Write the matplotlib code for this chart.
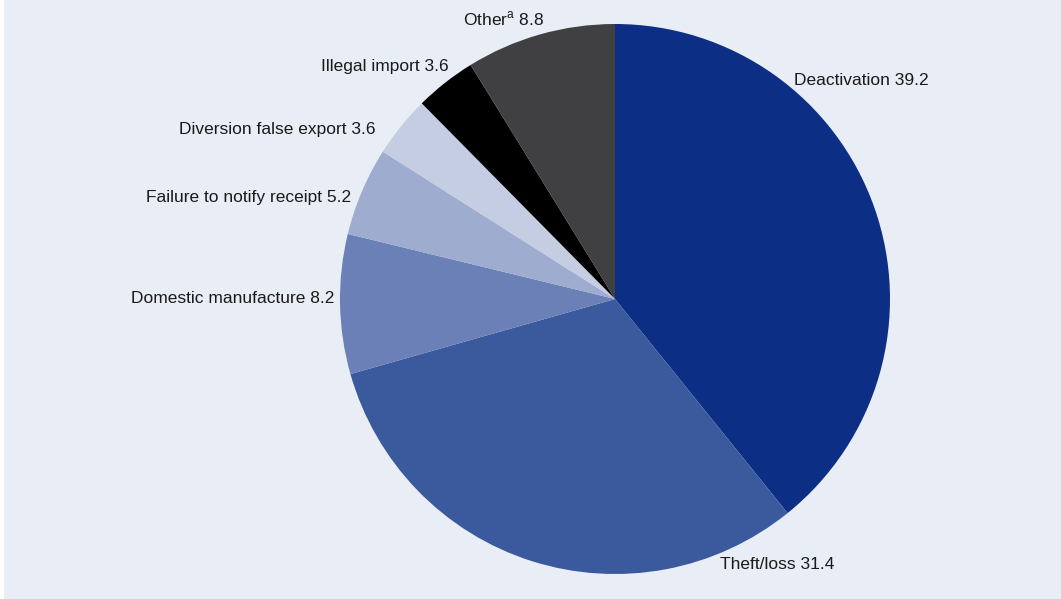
import numpy as np
import matplotlib.pyplot as plt
from matplotlib.patches import Rectangle

categories = ["Deactivation", "Theft/loss", "Domestic manufacture",
              "Failure to notify receipt", "Diversion false export",
              "Illegal import", "Other"]
values = [39.2, 31.4, 8.2, 5.2, 3.6, 3.6, 8.8]
label_text = ["Deactivation 39.2", "Theft/loss 31.4", "Domestic manufacture 8.2",
              "Failure to notify receipt 5.2", "Diversion false export 3.6",
              "Illegal import 3.6", "Other$^{\\mathrm{a}}$ 8.8"]

colors = ["#0c2e84", "#3b5a9d", "#6a80b7", "#9eacd0", "#c5cde3", "#000000", "#404042"]
# label anchor: angle (deg), radius (fraction of R), alignment
label_angle = [50.6, -68.4, 179.8, 158.9, 144.6, 125.5, 104.2]
label_r = [1.026, 1.037, 1.022, 1.029, 1.067, 1.04, 1.05]
label_ha = ["left", "left", "right", "right", "right", "right", "right"]

bg = "#e9edf6"
plt.rcParams['font.family'] = ['Liberation Sans', 'DejaVu Sans']
plt.rcParams['mathtext.fontset'] = 'custom'
plt.rcParams['mathtext.rm'] = 'Liberation Sans'

fig = plt.figure(figsize=(10.61, 5.99), dpi=100, facecolor="white")
fig.patches.append(Rectangle((4 / 1061, 0), 1, 1, transform=fig.transFigure,
                             facecolor=bg, edgecolor="none", zorder=-10))

# pie centre (615, 299) px, radius 275 px
W, H = 1061, 599
R = 275
ax = fig.add_axes([(615 - R) / W, (H - 299 - R) / H, 2 * R / W, 2 * R / H])
ax.set_facecolor("none")

ax.pie(values, colors=colors, startangle=90, counterclock=False, radius=1,
       wedgeprops=dict(linewidth=0))
ax.set_xlim(-1, 1)
ax.set_ylim(-1, 1)
ax.set_aspect("auto")
ax.axis("off")

for txt, ang, r, ha in zip(label_text, label_angle, label_r, label_ha):
    a = np.deg2rad(ang)
    ax.text(r * np.cos(a), r * np.sin(a), txt, ha=ha, va="center",
            fontsize=12.5, color="#1a1a1a", clip_on=False)

fig.savefig("out.png", dpi=100, facecolor=fig.get_facecolor())
